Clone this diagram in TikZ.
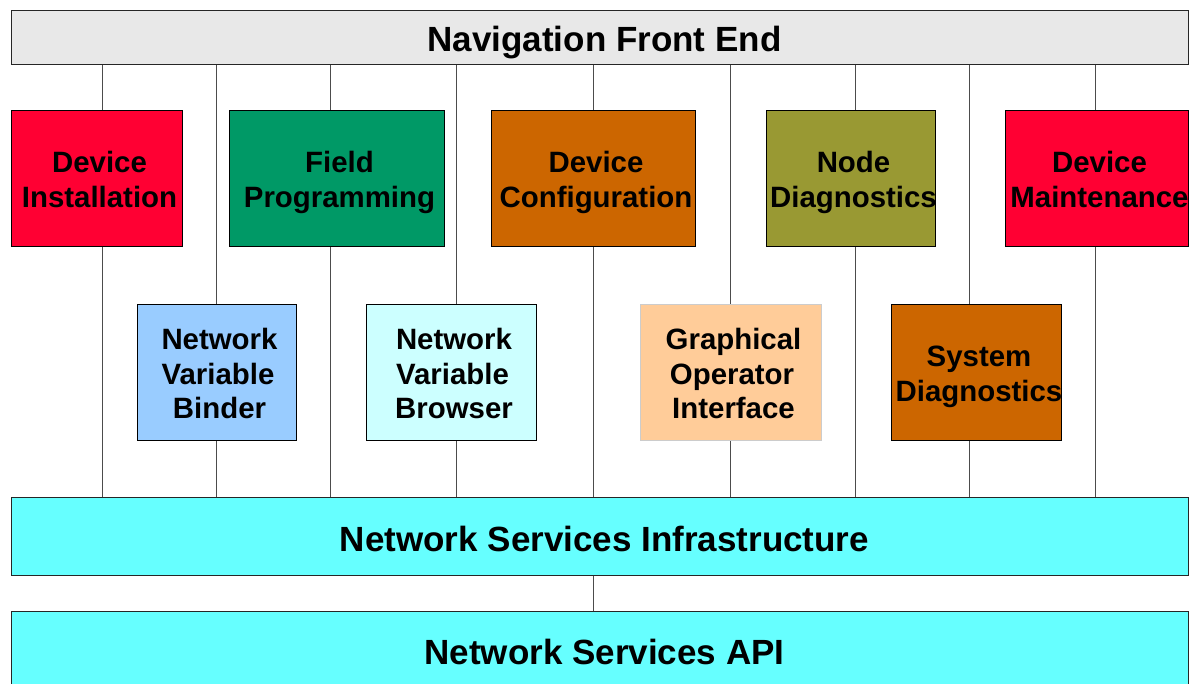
\documentclass[tikz,border=0pt]{standalone}
\usepackage{fontspec}
\setmainfont{Liberation Sans}
\usetikzlibrary{backgrounds}
\definecolor{cRed}{HTML}{FF0033}
\definecolor{cGreen}{HTML}{009966}
\definecolor{cOrange}{HTML}{CC6600}
\definecolor{cOlive}{HTML}{999933}
\definecolor{cLBlue}{HTML}{99CCFF}
\definecolor{cPale}{HTML}{CCFFFF}
\definecolor{cPeach}{HTML}{FFCC99}
\definecolor{cCyan}{HTML}{66FFFF}
\definecolor{cGray}{HTML}{E8E8E8}
\newcommand\shiftln[1]{\hspace*{3pt}#1\hspace*{-3pt}}
\newcommand\firstln{\rule{0pt}{34.5pt}}
\newcommand\lastln{\rule[-10.5pt]{0pt}{10.5pt}}
\begin{document}
\begin{tikzpicture}[x=1pt,y=-1pt,
  box/.style={draw=black, line width=0.9pt, inner sep=0pt, align=center, minimum height=136pt,
    font=\fontsize{29.4}{34.5}\selectfont\bfseries},
  bar/.style={draw=black!85, line width=0.9pt, inner sep=0pt, minimum width=1177pt,
    text depth=0pt, font=\fontsize{35}{40}\selectfont\bfseries},
  link/.style={draw=black!70, line width=0.8pt}]
\useasboundingbox (0,0) rectangle (1193,684);
\clip (0,0) rectangle (1193,684);

% bars
\node[bar, fill=cGray, minimum height=54pt, text height=29pt] (top) at (599.5,37) {\hspace*{10pt}Navigation Front End};
\node[bar, fill=cCyan, minimum height=78pt, text height=31pt] (nsi) at (599.5,536) {\hspace*{10pt}Network Services Infrastructure};
\node[bar, fill=cCyan, minimum height=78pt, text height=29pt] (api) at (599.5,650) {\hspace*{10pt}Network Services API};

% upper row
\node[box, fill=cRed, minimum width=171pt] (di) at (96.5,178) {\firstln\shiftln{Device}\\\shiftln{Installation}\lastln};
\node[box, fill=cGreen, minimum width=215pt] (fp) at (336.5,178) {\firstln\shiftln{Field}\\\shiftln{Programming}\lastln};
\node[box, fill=cOrange, minimum width=204pt] (dc) at (593,178) {\firstln\shiftln{Device}\\\shiftln{Configuration}\lastln};
\node[box, fill=cOlive, minimum width=169pt] (nd) at (850.5,178) {\firstln\shiftln{Node}\\\shiftln{Diagnostics}\lastln};
\node[box, fill=cRed, minimum width=183pt] (dm) at (1096.5,178) {\firstln\shiftln{Device}\\\shiftln{Maintenance}\lastln};

% lower row
\node[box, fill=cLBlue, minimum width=159pt] (nvb) at (216.5,372) {\firstln\shiftln{Network}\\\shiftln{Variable}\\\shiftln{Binder}\lastln};
\node[box, fill=cPale, minimum width=170pt] (nvr) at (451,372) {\firstln\shiftln{Network}\\\shiftln{Variable}\\\shiftln{Browser}\lastln};
\node[box, fill=cPeach, draw=black!20, minimum width=181pt] (goi) at (730.5,372) {\firstln\shiftln{Graphical}\\\shiftln{Operator}\\\shiftln{Interface}\lastln};
\node[box, fill=cOrange, minimum width=170pt] (sd) at (976,372) {\firstln\shiftln{System}\\\shiftln{Diagnostics}\lastln};

% vertical connectors
\coordinate (c1) at (102,0);
\coordinate (c2) at (216,0);
\coordinate (c3) at (330,0);
\coordinate (c4) at (456,0);
\coordinate (c5) at (593,0);
\coordinate (c6) at (730,0);
\coordinate (c7) at (855,0);
\coordinate (c8) at (969,0);
\coordinate (c9) at (1095,0);
\begin{scope}[on background layer]
  \foreach \c in {c1,c2,c3,c4,c5,c6,c7,c8,c9}
    \draw[link] (\c |- top.south) -- (\c |- nsi.north);
  \draw[link] (c5 |- nsi.south) -- (c5 |- api.north);
\end{scope}
\end{tikzpicture}
\end{document}
